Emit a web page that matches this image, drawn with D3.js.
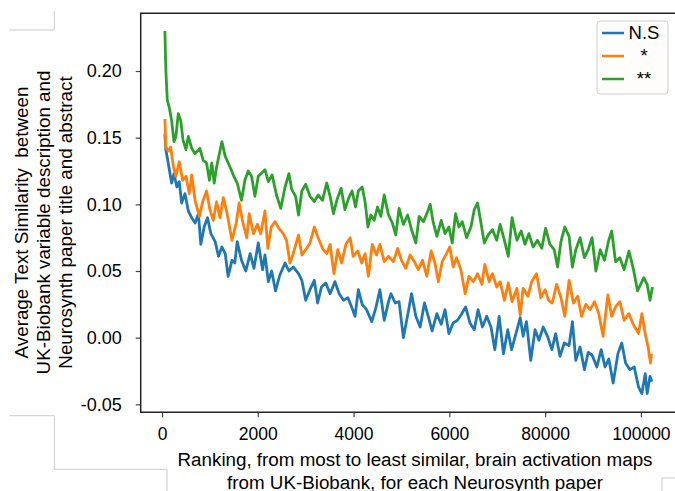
<!DOCTYPE html>
<html>
<head>
<meta charset="utf-8">
<script src="https://cdn.jsdelivr.net/npm/d3@7"></script>
<style>
  body { margin: 0; background: #fff; }
  svg { display: block; font-family: "Liberation Sans", Arial, sans-serif; }
  text { white-space: pre; }
</style>
</head>
<body>
<svg id="chart" width="675" height="491"></svg>
<script>
// ticks as printed on the figure
const xTicks = [0, 20000, 40000, 60000, 80000, 100000];
const xTickLabels = ["0", "2000", "4000", "6000", "80000", "100000"];
const yTicks = [-0.05, 0, 0.05, 0.1, 0.15, 0.2];

const seriesNames = ["N.S", "*", "**"];
const seriesColors = ["#1f77b4", "#ff7f0e", "#2ca02c"];

// [ranking, similarity]
const nsData = [
  [600,0.153],[800,0.141],[1300,0.131],[2000,0.116],[2500,0.123],[3100,0.113],[3600,0.117],[4100,0.101],
  [4800,0.108],[5500,0.095],[6200,0.090],[6900,0.086],[7600,0.093],[8100,0.070],[8800,0.083],[9500,0.090],
  [10200,0.078],[11100,0.072],[11800,0.061],[12500,0.068],[13200,0.063],[13800,0.046],[14600,0.058],[15200,0.056],
  [15700,0.072],[16600,0.058],[17500,0.050],[18400,0.063],[19200,0.052],[20100,0.071],[21000,0.051],[21500,0.062],
  [22200,0.042],[22900,0.050],[23700,0.035],[24600,0.047],[25700,0.056],[26500,0.050],[27400,0.053],[28500,0.048],
  [29200,0.043],[30000,0.028],[30900,0.036],[31800,0.043],[32500,0.026],[33300,0.038],[34200,0.041],[35100,0.033],
  [36100,0.042],[37000,0.033],[37900,0.028],[38800,0.030],[39600,0.023],[40300,0.016],[41000,0.036],[41800,0.025],
  [42700,0.021],[43800,0.012],[44700,0.023],[45500,0.036],[46400,0.013],[47300,0.027],[47800,0.033],[48700,0.026],
  [49500,0.027],[50400,0.000],[51300,0.017],[52100,0.033],[53000,0.016],[53900,0.008],[54800,0.026],[55600,0.016],
  [56400,0.005],[57400,0.018],[58300,0.010],[59100,0.021],[59900,0.003],[60800,0.011],[61700,0.013],[62600,0.018],
  [63400,0.023],[64300,0.011],[65200,0.006],[66000,0.021],[66900,0.008],[67800,0.016],[68700,0.008],[69500,-0.009],
  [70400,0.016],[71300,-0.012],[72200,0.006],[73000,-0.009],[73900,0.003],[74800,0.015],[75400,0.001],[76100,0.012],
  [77000,-0.017],[77900,0.006],[78700,-0.002],[79600,0.008],[80500,0.001],[81400,-0.009],[82200,0.003],[83100,-0.014],
  [84000,-0.004],[85000,-0.006],[85700,0.012],[86400,-0.017],[87300,-0.007],[88200,-0.024],[89000,-0.011],[89800,-0.013],
  [90800,-0.022],[91700,-0.009],[92500,-0.022],[93300,-0.016],[94200,-0.034],[95200,-0.012],[96000,-0.004],[96800,-0.019],
  [97700,-0.024],[98600,-0.022],[99500,-0.037],[100200,-0.042],[100900,-0.027],[101300,-0.042],[101900,-0.029],[102300,-0.033]
];

const star1Data = [
  [600,0.164],[800,0.143],[1300,0.140],[1800,0.143],[2400,0.128],[2900,0.121],[3600,0.132],[4300,0.118],
  [5000,0.121],[5700,0.108],[6200,0.122],[6900,0.103],[7800,0.091],[8500,0.102],[9300,0.110],[10000,0.096],
  [10700,0.088],[11400,0.102],[12100,0.090],[12800,0.105],[13600,0.093],[14600,0.073],[15500,0.086],[16100,0.101],
  [16900,0.086],[17700,0.075],[18200,0.093],[19100,0.078],[19900,0.085],[20600,0.078],[21500,0.095],[22100,0.067],
  [22800,0.083],[23600,0.087],[24400,0.082],[25300,0.078],[26000,0.073],[26700,0.056],[27400,0.063],[28500,0.077],
  [29200,0.062],[30000,0.066],[30900,0.071],[31800,0.083],[32600,0.075],[33500,0.067],[34400,0.063],[35100,0.070],
  [35900,0.048],[36700,0.066],[37500,0.056],[38400,0.070],[39300,0.075],[39900,0.061],[40900,0.065],[41700,0.056],
  [42400,0.063],[43100,0.046],[43900,0.070],[44800,0.062],[45500,0.070],[46400,0.057],[47300,0.061],[48300,0.057],
  [49200,0.067],[50000,0.058],[50900,0.052],[51800,0.062],[52700,0.057],[53500,0.051],[54400,0.058],[55300,0.046],
  [56200,0.065],[57000,0.056],[57700,0.042],[58500,0.057],[59400,0.063],[60100,0.068],[60800,0.053],[61500,0.060],
  [62400,0.051],[63300,0.033],[64100,0.046],[65000,0.042],[65900,0.048],[66800,0.040],[67400,0.055],[68300,0.042],
  [69000,0.048],[69900,0.038],[70600,0.042],[71500,0.028],[72300,0.041],[73100,0.027],[74100,0.037],[74800,0.017],
  [75400,0.037],[76400,0.031],[77200,0.042],[78200,0.048],[79100,0.030],[80000,0.036],[80700,0.028],[81500,0.026],
  [82400,0.040],[83300,0.030],[84100,0.016],[85000,0.043],[85900,0.026],[86800,0.031],[87600,0.016],[88500,0.025],
  [89400,0.021],[90300,0.027],[91200,0.018],[92100,0.001],[93100,0.032],[93900,0.016],[94700,0.023],[95600,0.027],
  [96500,0.013],[97500,0.018],[98400,0.010],[99500,0.003],[100200,0.018],[100900,0.003],[101500,-0.007],[102000,-0.019],
  [102200,-0.012]
];

const star2Data = [
  [600,0.230],[800,0.201],[1100,0.178],[1500,0.173],[2000,0.163],[2500,0.147],[2900,0.151],[3400,0.168],
  [3900,0.163],[4400,0.148],[5000,0.141],[5500,0.151],[6200,0.142],[6900,0.138],[7900,0.142],[8600,0.133],
  [9300,0.131],[9900,0.118],[10400,0.131],[10900,0.116],[11400,0.128],[12500,0.147],[13200,0.136],[14200,0.128],
  [15000,0.121],[15700,0.116],[16600,0.103],[17300,0.118],[18000,0.125],[18700,0.121],[19400,0.106],[20100,0.121],
  [21500,0.126],[22200,0.117],[23000,0.122],[23900,0.107],[24800,0.097],[25700,0.113],[26500,0.123],[27100,0.111],
  [27900,0.106],[28500,0.092],[29200,0.110],[30000,0.115],[30900,0.106],[31800,0.102],[32600,0.107],[33500,0.103],
  [34400,0.116],[35100,0.106],[35800,0.093],[36500,0.103],[37400,0.112],[38200,0.096],[39000,0.105],[39700,0.110],
  [40400,0.098],[41000,0.110],[41800,0.113],[42400,0.102],[43000,0.083],[43600,0.092],[44300,0.088],[45000,0.098],
  [45700,0.091],[46400,0.107],[47300,0.092],[48100,0.086],[48800,0.077],[49500,0.097],[50400,0.085],[51300,0.092],
  [52100,0.081],[53000,0.071],[53700,0.091],[54600,0.087],[55500,0.095],[56000,0.100],[56600,0.087],[57400,0.076],
  [58300,0.088],[59100,0.078],[59900,0.083],[60600,0.071],[61300,0.093],[62000,0.083],[62700,0.087],[63600,0.075],
  [64500,0.083],[65200,0.096],[65900,0.101],[66600,0.086],[67300,0.071],[68100,0.077],[69000,0.081],[69900,0.073],
  [70600,0.085],[71500,0.073],[72300,0.061],[73100,0.090],[74100,0.073],[75000,0.080],[75800,0.070],[76600,0.078],
  [77500,0.068],[78400,0.073],[79300,0.067],[80100,0.082],[81000,0.070],[81900,0.066],[82600,0.053],[83300,0.072],
  [84100,0.083],[85000,0.076],[85700,0.053],[86400,0.066],[87300,0.075],[88200,0.060],[89000,0.066],[89800,0.075],
  [90600,0.050],[91500,0.066],[92400,0.058],[93200,0.072],[93900,0.080],[94700,0.057],[95600,0.060],[96500,0.051],
  [97500,0.065],[98400,0.052],[99300,0.035],[100600,0.045],[101300,0.040],[101900,0.028],[102400,0.038]
];

const allSeries = [nsData, star1Data, star2Data];

const yLabelLines = [
  "Average Text Similarity  between",
  "UK-Biobank variable description and",
  "Neurosynth paper title and abstract"
];
const xLabelLines = [
  "Ranking, from most to least similar, brain activation maps",
  "from UK-Biobank, for each Neurosynth paper"
];

const svg = d3.select("#chart");

const plotLeft = 140.7, plotTop = 13.3, plotBottom = 412.3, plotRight = 690;

const x = d3.scaleLinear().domain([-4450, 110250]).range([plotLeft, plotRight]);
const y = d3.scaleLinear().domain([-0.056, 0.2433]).range([plotBottom, plotTop]);

// leftover edges of the screenshot the figure was cut from
const cropEdges = [
  [[54.3, 11], [54.3, 30], [9.3, 30]],
  [[9.3, 415.7], [54.3, 415.7], [54.3, 469.3], [167, 469.3], [167, 491]],
  [[662, 491], [662, 478], [675, 478]]
];
svg.selectAll(".crop")
  .data(cropEdges)
  .enter()
  .append("path")
  .attr("class", "crop")
  .attr("d", d3.line())
  .attr("fill", "none")
  .attr("stroke", "#cccccc")
  .attr("stroke-width", 1);

// lines
const line = d3.line()
  .x((d) => x(d[0]))
  .y((d) => y(d[1]));

svg.selectAll(".lines")
  .data(allSeries)
  .enter()
  .append("path")
  .attr("class", "lines")
  .attr("d", line)
  .attr("fill", "none")
  .attr("stroke", (d, i) => seriesColors[i])
  .attr("stroke-width", 2.8)
  .attr("stroke-linejoin", "round");

// axes
const yAxis = svg.append("g")
  .attr("transform", `translate(${plotLeft},0)`)
  .call(d3.axisLeft(y).tickValues(yTicks).tickSize(5).tickPadding(14)
    .tickFormat((d) => d.toFixed(2)));
yAxis.select(".domain").remove();
yAxis.selectAll("line").attr("stroke", "#444").attr("stroke-width", 1.2);
yAxis.selectAll("text")
  .attr("font-size", 18)
  .attr("font-family", "Liberation Sans, Arial, sans-serif")
  .attr("fill", "#000");

const xAxis = svg.append("g")
  .attr("transform", `translate(0,${plotBottom})`)
  .call(d3.axisBottom(x).tickValues(xTicks).tickSize(5)
    .tickFormat((d, i) => xTickLabels[i]));
xAxis.select(".domain").remove();
xAxis.selectAll("line").attr("stroke", "#444").attr("stroke-width", 1.2);
xAxis.selectAll("text")
  .attr("y", 27.7)
  .attr("dy", null)
  .attr("font-size", 17.5)
  .attr("font-family", "Liberation Sans, Arial, sans-serif")
  .attr("fill", "#000");

// spines (right one is outside the crop)
svg.append("path")
  .attr("d", `M675,${plotTop}H${plotLeft}V${plotBottom}H675`)
  .attr("fill", "none")
  .attr("stroke", "#222")
  .attr("stroke-width", 1.5);

// axis labels
svg.selectAll(".ylabel")
  .data(yLabelLines)
  .enter()
  .append("text")
  .attr("class", "ylabel")
  .attr("transform", (d, i) => `translate(${28 + i * 22},222.5) rotate(-90)`)
  .attr("text-anchor", "middle")
  .attr("font-size", 18.8)
  .attr("fill", "#000")
  .text((d) => d);

svg.selectAll(".xlabel")
  .data(xLabelLines)
  .enter()
  .append("text")
  .attr("class", "xlabel")
  .attr("x", 415)
  .attr("y", (d, i) => 466 + i * 22.5)
  .attr("text-anchor", "middle")
  .attr("font-size", 18.8)
  .attr("fill", "#000")
  .text((d) => d);

// legend
const legend = svg.append("g");
legend.append("rect")
  .attr("x", 597).attr("y", 21)
  .attr("width", 71).attr("height", 73)
  .attr("rx", 3)
  .attr("fill", "#fffdfc")
  .attr("stroke", "#cfcfcf")
  .attr("stroke-width", 1);

const items = legend.selectAll(".item")
  .data(seriesNames)
  .enter()
  .append("g")
  .attr("class", "item")
  .attr("transform", (d, i) => `translate(0,${33 + i * 23})`);
items.append("line")
  .attr("x1", 602).attr("x2", 624)
  .attr("stroke", (d, i) => seriesColors[i])
  .attr("stroke-width", 2.5);
items.append("text")
  .attr("x", 644)
  .attr("y", 6.3)
  .attr("text-anchor", "middle")
  .attr("font-size", 18.5)
  .attr("fill", "#000")
  .text((d) => d);
</script>
</body>
</html>
